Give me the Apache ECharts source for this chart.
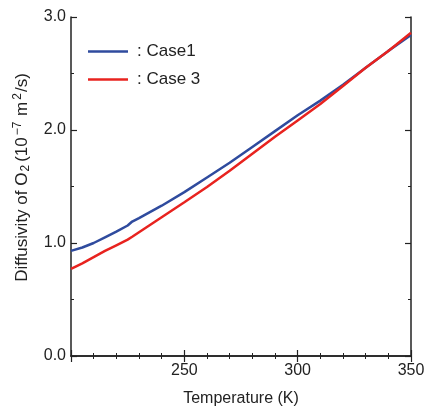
<!DOCTYPE html>
<html><head><meta charset="utf-8">
<script src="https://cdn.jsdelivr.net/npm/echarts@6/dist/echarts.min.js"></script>
<style>html,body{margin:0;padding:0;background:#fff}#c{width:426px;height:407px}</style>
</head><body><div id="c"></div>
<script>
const temps = [200,205,210,215,220,225,227,230,240,250,260,270,280,290,300,310,320,330,340,350];
const case1 = [0.93,0.96,1.00,1.05,1.10,1.155,1.19,1.22,1.33,1.45,1.58,1.71,1.85,1.99,2.13,2.26,2.40,2.55,2.70,2.84];
const case3 = [0.77,0.82,0.875,0.93,0.98,1.03,1.055,1.095,1.228,1.36,1.495,1.64,1.79,1.94,2.085,2.23,2.39,2.55,2.70,2.86];
const seriesNames = [': Case1', ': Case 3'];
const xTicks = [250, 300, 350];
const yTicks = [0, 1, 2, 3];

const font = 'Liberation Sans, Arial, Helvetica, sans-serif';
const txt = '#222';
const axisCommon = {
  axisLine: {show: true, lineStyle: {color: '#222', width: 1.5}},
  axisTick: {show: true, inside: true, length: 6, lineStyle: {color: '#222', width: 1.2}},
  minorTick: {show: true, length: 3, lineStyle: {color: '#222', width: 1}},
  splitLine: {show: false}
};
const chart = echarts.init(document.getElementById('c'));
chart.setOption({
  animation: false,
  grid: {left: 71, right: 15, top: 17, bottom: 51, containLabel: false, outerBoundsMode: 'none'},
  legend: {
    orient: 'vertical', left: 83, top: 38, itemGap: 11,
    icon: 'rect', itemWidth: 40, itemHeight: 2.5,
    textStyle: {fontFamily: font, fontSize: 17, color: txt, padding: [0, 0, 0, 4]},
    data: seriesNames
  },
  xAxis: [
    Object.assign({
      type: 'value', min: 200, max: 350, interval: 50, position: 'bottom',
      minorTick: Object.assign({}, axisCommon.minorTick, {splitNumber: 5}),
      name: 'Temperature (K)', nameLocation: 'middle', nameGap: 35,
      nameTextStyle: {fontFamily: font, fontSize: 16, color: txt},
      axisLabel: {fontFamily: font, fontSize: 16, color: txt, margin: 7,
        formatter: v => xTicks.indexOf(v) >= 0 ? String(v) : ''}
    }, {axisLine: axisCommon.axisLine, axisTick: axisCommon.axisTick, splitLine: axisCommon.splitLine}),
    Object.assign({
      type: 'value', min: 200, max: 350, interval: 50, position: 'top',
      minorTick: Object.assign({}, axisCommon.minorTick, {splitNumber: 5}),
      axisLabel: {show: false}
    }, {axisLine: axisCommon.axisLine, axisTick: axisCommon.axisTick, splitLine: axisCommon.splitLine})
  ],
  yAxis: [
    Object.assign({
      type: 'value', min: 0, max: 3, interval: 1, position: 'left',
      minorTick: Object.assign({}, axisCommon.minorTick, {splitNumber: 2}),
      name: '{start|Diffusivity of O}{sub|2}{t|(10}{sup|−7}{t| m}{sup|2}{t|/s)}',
      nameLocation: 'middle', nameGap: 37,
      nameTextStyle: {fontFamily: font, fontSize: 17, color: txt,
        rich: {
          t: {fontFamily: font, fontSize: 17, color: txt, lineHeight: 22},
          start: {fontFamily: font, fontSize: 17, color: txt, lineHeight: 22, padding: [0, 0, 0, 18]},
          sub: {fontFamily: font, fontSize: 12, color: txt, lineHeight: 22, padding: [7, 3, 0, 1]},
          sup: {fontFamily: font, fontSize: 12, color: txt, lineHeight: 22, padding: [0, 1, 9, 2]}
        }},
      axisLabel: {fontFamily: font, fontSize: 16, color: txt, margin: 5,
        formatter: v => yTicks.indexOf(v) >= 0 ? v.toFixed(1) : ''}
    }, {axisLine: axisCommon.axisLine, axisTick: axisCommon.axisTick, splitLine: axisCommon.splitLine}),
    Object.assign({
      type: 'value', min: 0, max: 3, interval: 1, position: 'right',
      minorTick: Object.assign({}, axisCommon.minorTick, {splitNumber: 2}),
      axisLabel: {show: false}
    }, {axisLine: axisCommon.axisLine, axisTick: axisCommon.axisTick, splitLine: axisCommon.splitLine})
  ],
  series: [
    {name: seriesNames[0], type: 'line', symbol: 'none', smooth: false,
     lineStyle: {color: '#2f4b9e', width: 2.5}, itemStyle: {color: '#2f4b9e'},
     data: temps.map((t, i) => [t, case1[i]])},
    {name: seriesNames[1], type: 'line', symbol: 'none', smooth: false,
     lineStyle: {color: '#e8231f', width: 2.5}, itemStyle: {color: '#e8231f'},
     data: temps.map((t, i) => [t, case3[i]])}
  ]
});
</script></body></html>
